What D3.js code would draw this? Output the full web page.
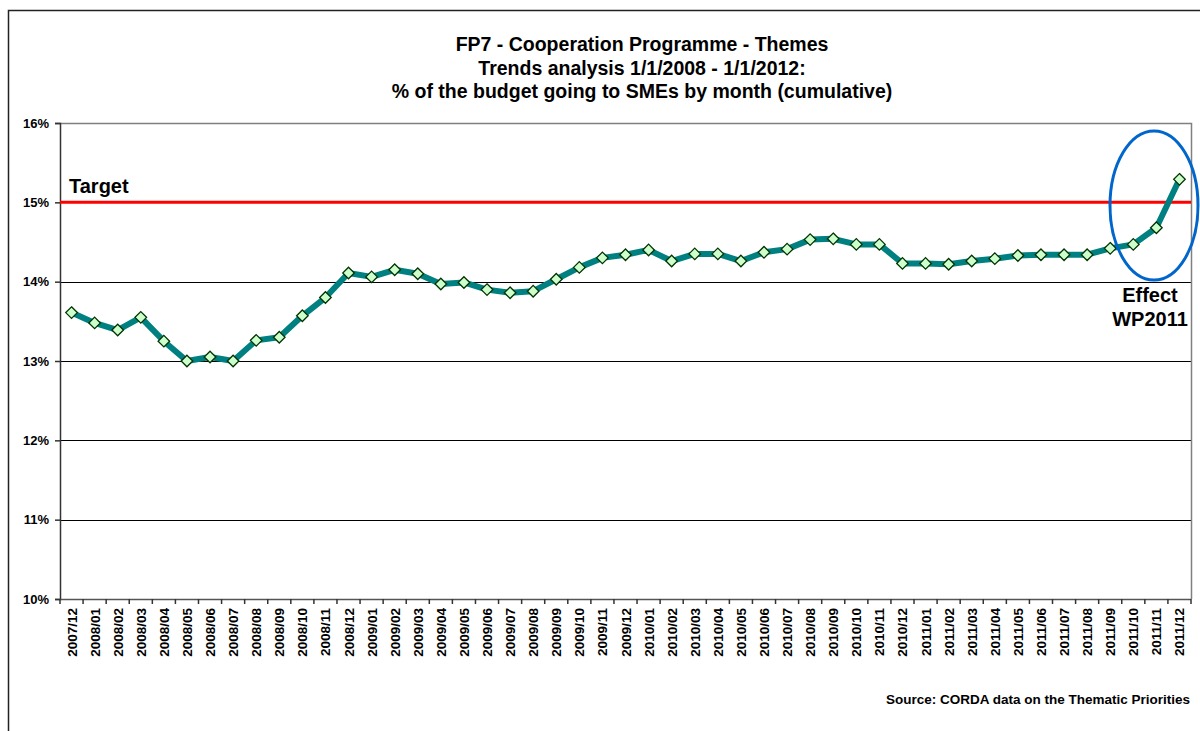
<!DOCTYPE html>
<html>
<head>
<meta charset="utf-8">
<script src="https://cdn.jsdelivr.net/npm/d3@7"></script>
<style>
  html, body { margin: 0; padding: 0; background: #fff; }
  svg { display: block; }
  text { font-family: "Liberation Sans", Arial, sans-serif; font-weight: bold; fill: #000; }
</style>
</head>
<body>
<svg id="chart" width="1200" height="731"></svg>
<script>
const months = ["2007/12","2008/01","2008/02","2008/03","2008/04","2008/05","2008/06","2008/07","2008/08","2008/09","2008/10","2008/11","2008/12",
  "2009/01","2009/02","2009/03","2009/04","2009/05","2009/06","2009/07","2009/08","2009/09","2009/10","2009/11","2009/12",
  "2010/01","2010/02","2010/03","2010/04","2010/05","2010/06","2010/07","2010/08","2010/09","2010/10","2010/11","2010/12",
  "2011/01","2011/02","2011/03","2011/04","2011/05","2011/06","2011/07","2011/08","2011/09","2011/10","2011/11","2011/12"];
const smeShare = [13.61,13.48,13.39,13.55,13.25,13.00,13.05,13.00,13.26,13.30,13.57,13.80,14.11,
  14.06,14.15,14.10,13.97,13.99,13.90,13.86,13.88,14.03,14.18,14.30,14.34,
  14.40,14.26,14.35,14.35,14.26,14.37,14.41,14.53,14.54,14.47,14.47,14.23,
  14.23,14.22,14.26,14.29,14.33,14.34,14.34,14.34,14.42,14.47,14.68,15.29];
const yTicks = [10,11,12,13,14,15,16];
const target = 15;
const titleLines = ["FP7 - Cooperation Programme - Themes","Trends analysis 1/1/2008 - 1/1/2012:","% of the budget going to SMEs by month (cumulative)"];
const sourceNote = "Source: CORDA data on the Thematic Priorities";
const effectLabel = ["Effect","WP2011"];

const svg = d3.select("#chart");
const plot = {left: 60, right: 1191, top: 123, bottom: 599};

// outer chart border
svg.append("path").attr("d", "M8.5,740 L8.5,10.5 L1210,10.5")
  .attr("fill","none").attr("stroke","#222").attr("stroke-width",1.5);

const x = d3.scaleBand().domain(months).range([plot.left, plot.right]).padding(0);
const y = d3.scaleLinear().domain([10,16]).range([plot.bottom, plot.top]);

// gridlines
svg.append("g").selectAll("line").data(yTicks.filter(t => t > 10 && t < 16)).join("line")
  .attr("x1", plot.left).attr("x2", plot.right)
  .attr("y1", d => Math.round(y(d)) + 0.5).attr("y2", d => Math.round(y(d)) + 0.5)
  .attr("stroke","#000").attr("stroke-width",1);

// plot frame top & right (gray)
svg.append("path")
  .attr("d", `M${plot.left},${plot.top+0.5} L${plot.right+0.5},${plot.top+0.5} L${plot.right+0.5},${plot.bottom}`)
  .attr("fill","none").attr("stroke","#808080").attr("stroke-width",1.5);

// y axis
const yAxis = d3.axisLeft(y).tickValues(yTicks).tickFormat(d => d + "%").tickSize(5).tickPadding(6);
const gy = svg.append("g").attr("transform", `translate(${plot.left},0)`).call(yAxis);
gy.select(".domain").attr("stroke","#333").attr("stroke-width",1.5);
gy.selectAll(".tick line").attr("stroke","#333").attr("stroke-width",1.5);
gy.selectAll(".tick text").style("font-size","13px").style("font-family","Liberation Sans, Arial, sans-serif").style("font-weight","bold").attr("fill","#000");

// x axis (ticks at band boundaries)
const gx = svg.append("g").attr("transform", `translate(0,${plot.bottom})`);
gx.append("line").attr("x1", plot.left).attr("x2", plot.right).attr("y1",0.5).attr("y2",0.5)
  .attr("stroke","#555").attr("stroke-width",1.5);
const bounds = months.map(m => x(m)).concat([plot.right]);
gx.selectAll("line.tk").data(bounds).join("line").attr("class","tk")
  .attr("x1", d => d).attr("x2", d => d).attr("y1",0).attr("y2",5)
  .attr("stroke","#333").attr("stroke-width",1.5);
gx.selectAll("text").data(months).join("text")
  .attr("transform", d => `translate(${x(d) + x.bandwidth()/2 + 5},9) rotate(-90)`)
  .attr("text-anchor","end")
  .style("font-size","13.5px")
  .text(d => d);

// target line
svg.append("line").attr("x1", plot.left).attr("x2", plot.right)
  .attr("y1", y(target)).attr("y2", y(target))
  .attr("stroke","#ff0000").attr("stroke-width",3);
svg.append("text").attr("x", 69).attr("y", 193).style("font-size","20px").text("Target");

// series
const pts = months.map((m,i) => ({m, v: smeShare[i]}));
const line = d3.line().x(d => x(d.m) + x.bandwidth()/2).y(d => y(d.v));
svg.append("path").datum(pts).attr("d", line)
  .attr("fill","none").attr("stroke","#008080").attr("stroke-width",6).attr("stroke-linejoin","round");
const sym = d3.symbol().type(d3.symbolDiamond2).size(85);
svg.append("g").selectAll("path").data(pts).join("path")
  .attr("transform", d => `translate(${x(d.m) + x.bandwidth()/2},${y(d.v)})`)
  .attr("d", sym)
  .attr("fill","#ccffcc").attr("stroke","#003300").attr("stroke-width",1.3);

// ellipse annotation
svg.append("ellipse").attr("cx",1154).attr("cy",205.5).attr("rx",44).attr("ry",74.5)
  .attr("fill","none").attr("stroke","#0066cc").attr("stroke-width",3);
svg.append("g").selectAll("text").data(effectLabel).join("text")
  .attr("x",1150).attr("y",(d,i) => 302 + i*24).attr("text-anchor","middle")
  .style("font-size","20px").text(d => d);

// title
svg.append("g").selectAll("text").data(titleLines).join("text")
  .attr("x", 642).attr("y", (d,i) => 51 + i*23.5).attr("text-anchor","middle")
  .style("font-size","19.5px").text(d => d);

// source
svg.append("text").attr("x",1190).attr("y",704).attr("text-anchor","end")
  .style("font-size","13.5px").text(sourceNote);
</script>
</body>
</html>
